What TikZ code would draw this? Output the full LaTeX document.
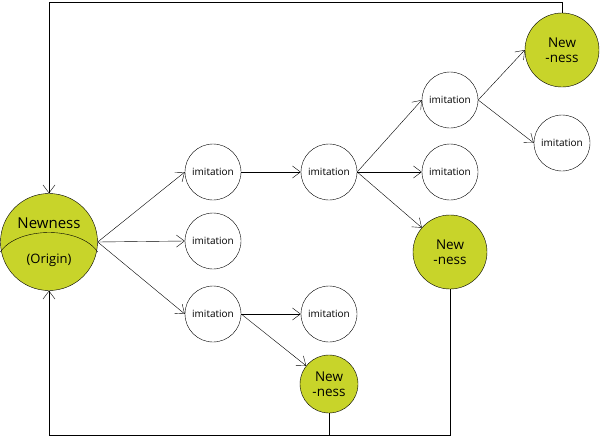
\documentclass[tikz,border=0pt]{standalone}
\usepackage{fontspec}
\setmainfont{Open Sans}
\usetikzlibrary{calc}
\usetikzlibrary{arrows.meta}
\definecolor{newyellow}{HTML}{C8D42A}

\begin{document}
\begin{tikzpicture}[x=1pt,y=-1pt]
  \tikzset{myedge/.style={-{Straight Barb[length=8pt,width=12pt]}, thin}};
  \tikzset{imnode/.style={circle, draw=black, minimum size=56pt, inner sep=0pt, font=\fontsize{10}{11}\selectfont}};
  \tikzset{newnode/.style={circle, draw=black, fill=newyellow, inner sep=0pt, align=center, font=\fontsize{13.5}{15}\selectfont}};
  \useasboundingbox (0,0) rectangle (600,437);
  \node[newnode, minimum size=97pt] (o) at (49,242) {};
  \draw ($(o.west)+(0,10)$) .. controls (18,226) and (80,226) .. ($(o.east)+(0,10)$);
  \node[font=\fontsize{15}{16}\selectfont] at (49,223) {Newness};
  \node[font=\fontsize{13}{14}\selectfont] at (49,260) {(Origin)};

  \node[imnode] (i1) at (213,172) {imitation};
  \node[imnode] (i2) at (213,241) {imitation};
  \node[imnode] (i3) at (213,314) {imitation};
  \node[imnode] (i4) at (329,172) {imitation};
  \node[imnode] (i5) at (329,314) {imitation};
  \node[imnode] (i6) at (450,100) {imitation};
  \node[imnode] (i7) at (450,172) {imitation};
  \node[imnode] (i8) at (562,143) {imitation};
  \node[newnode, minimum size=74pt] (n1) at (450,252) {New\\-ness};
  \node[newnode, minimum size=74pt] (n2) at (562,50) {New\\-ness};
  \node[newnode, minimum size=58pt] (n3) at (329,384) {New\\-ness};

  \draw [myedge] (o.east) -- (i1.west);
  \draw [myedge] (o.east) -- (i2.west);
  \draw [myedge] (o.east) -- (i3.west);
  \draw [myedge] (i1) -- (i4);
  \draw [myedge] (i3) -- (i5);
  \draw [myedge] (i3.east) -- (n3);
  \draw [myedge] (i4.east) -- (i6.west);
  \draw [myedge] (i4.east) -- (i7.west);
  \draw [myedge] (i4.east) -- (n1);
  \draw [myedge] (i6.east) -- (n2.west);
  \draw [myedge] (i6.east) -- (i8.west);

  % feedback loops
  \draw [myedge] (n2.north) |- (49,2) -- (o.north);
  \draw [myedge] (n1.south) |- (49,435) -- (o.south);
  \draw (n3.south) -- (n3.south |- 0,435);
\end{tikzpicture}
\end{document}
